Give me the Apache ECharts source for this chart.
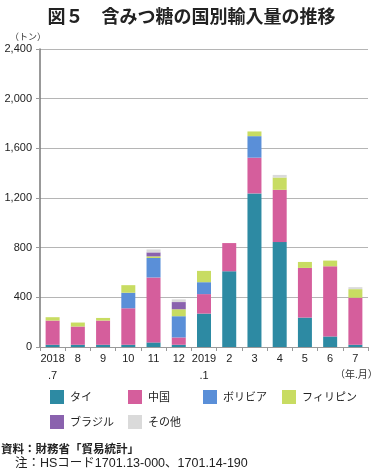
<!DOCTYPE html>
<html><head><meta charset="utf-8">
<script src="https://cdn.jsdelivr.net/npm/echarts@6/dist/echarts.min.js"></script>
<style>html,body{margin:0;padding:0;background:#fff}#c{width:383px;height:470px}</style>
</head><body><div id="c"></div>
<script>
const categories = ['2018\n.7','8','9','10','11','12','2019\n.1','2','3','4','5','6','7'];
const thai     = [18,18,18,18,37,18,269,610,1237,845,237,85,18];
const china    = [195,147,195,294,523,59,157,227,288,421,400,565,379];
const bolivia  = [0,0,0,125,157,171,96,0,173,0,0,0,0];
const phil     = [27,32,21,61,13,56,91,0,38,99,48,46,69];
const brazil   = [0,0,0,0,32,58,0,0,0,0,0,0,0];
const others   = [0,0,0,0,24,22,0,0,0,21,0,0,16];
const seriesNames = ['タイ','中国','ボリビア','フィリピン','ブラジル','その他'];
const seriesData = [thai, china, bolivia, phil, brazil, others];
const colors = ['#2D8AA3','#D55E9C','#5A8FD8','#C8DC62','#8A62AE','#DADADA'];

const font = '"Noto Sans CJK JP", "Noto Sans", sans-serif';
const latinFont = '"Liberation Sans", "Noto Sans CJK JP", sans-serif';
const chart = echarts.init(document.getElementById('c'));
const legendPos = [[50,390],[128,390],[203,390],[282,390],[50,415],[128,415]];
chart.setOption({
  animation:false,
  textStyle:{fontFamily:font},
  title:{text:'図５　含みつ糖の国別輸入量の推移',left:'center',top:2,
    textStyle:{fontFamily:font,fontSize:18,fontWeight:'bold',color:'#222'}},
  legend: seriesNames.map((n,i)=>({data:[n],left:legendPos[i][0],top:legendPos[i][1],
    itemWidth:14,itemHeight:14,itemGap:0,icon:'rect',
    textStyle:{fontFamily:font,fontSize:11,color:'#222',padding:[0,0,0,1]},padding:0})),
  grid:{left:40,right:15,top:49,bottom:123,containLabel:false},
  xAxis:{type:'category',data:categories,
    axisLine:{lineStyle:{color:'#999',width:1}},
    axisTick:{show:true,length:4,lineStyle:{color:'#999'}},
    axisLabel:{color:'#222',fontSize:11,lineHeight:17,margin:3,interval:0,fontFamily:latinFont}},
  yAxis:{type:'value',min:0,max:2400,interval:400,
    axisLine:{show:true,lineStyle:{color:'#777',width:1.5}},
    axisTick:{show:true,length:4,lineStyle:{color:'#999'}},
    splitLine:{lineStyle:{color:'#b5b5b5',width:1}},
    axisLabel:{color:'#222',fontSize:11,margin:8,fontFamily:latinFont,
      formatter:v=>v.toLocaleString('en-US')}},
  series: seriesNames.map((n,i)=>({name:n,type:'bar',stack:'total',barWidth:14,
    data:seriesData[i],itemStyle:{color:colors[i]}})),
  graphic:[
    {type:'text',left:10,top:32,style:{text:'（トン）',fontFamily:font,fontSize:9,fill:'#333'}},
    {type:'text',left:335,top:369,style:{text:'（年.月）',fontFamily:font,fontSize:10,fill:'#333'}},
    {type:'text',left:1,top:443,style:{text:'資料：財務省「貿易統計」',fontFamily:font,fontSize:11.5,fontWeight:'bold',fill:'#222'}},
    {type:'text',left:15,top:457,style:{text:'注：HSコード1701.13-000、1701.14-190',fontFamily:latinFont,fontSize:12.5,fill:'#222'}}
  ]
});
</script></body></html>
